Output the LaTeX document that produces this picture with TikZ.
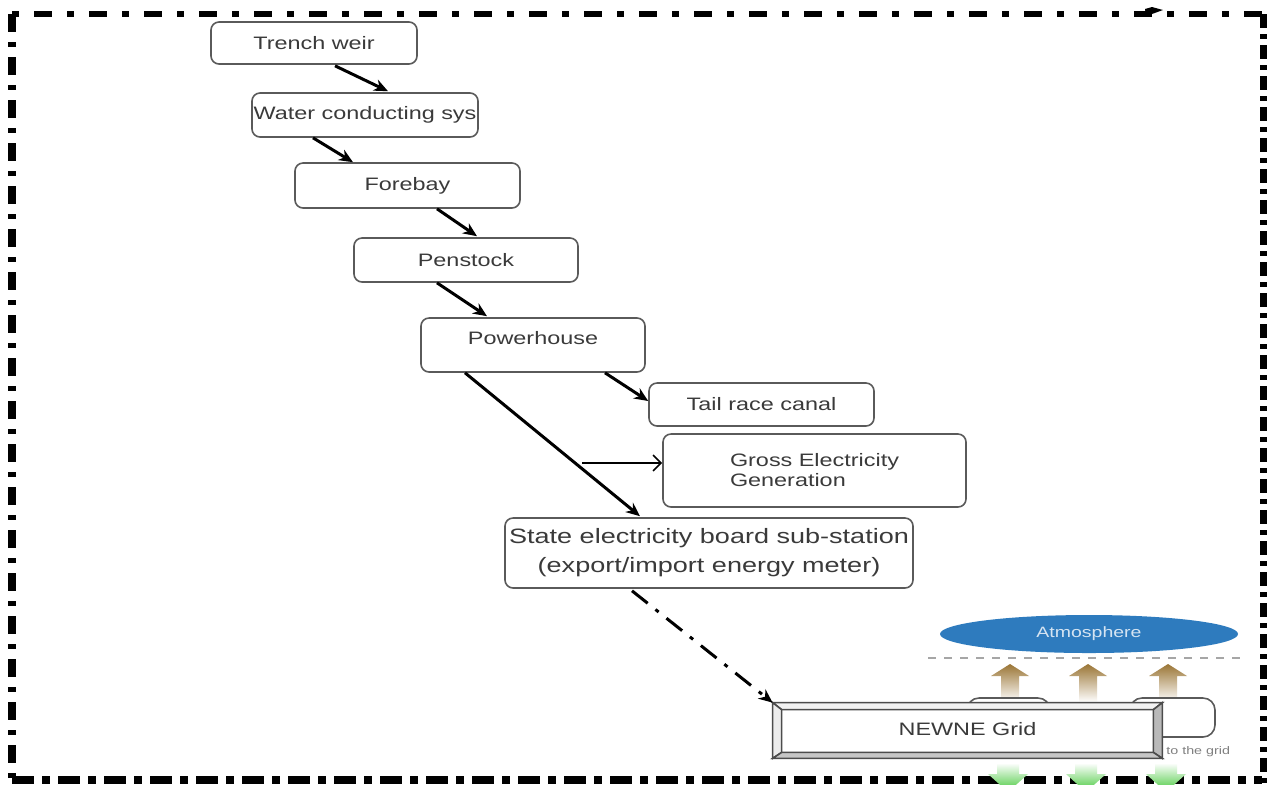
\documentclass[tikz,border=0pt]{standalone}
\usepackage{fontspec}
\setmainfont{Liberation Sans}[FakeStretch=1.3]
\usetikzlibrary{arrows.meta,calc,shapes.geometric}
\definecolor{txt}{HTML}{3A3A3A}
\definecolor{edge}{HTML}{5A5A5A}
\definecolor{atm}{HTML}{2E7BBE}
\definecolor{brownar}{HTML}{9A7535}
\definecolor{greenar}{HTML}{45C83A}
\begin{document}
\begin{tikzpicture}[x=0.5pt,y=-0.5pt,
  box/.style={draw=edge,line width=0.8pt,rounded corners=4pt,fill=white,inner sep=0pt,text=txt,font=\fontsize{9}{10.5}\selectfont,align=center},
  flow/.style={line width=1.5pt,-{Stealth[length=7pt,width=6pt]}},
  thinflow/.style={line width=0.8pt,-{Straight Barb[length=4pt,width=8pt]}},
  frame/.style={line width=4pt,line cap=butt},
  bevel/.style={draw=black!70,line width=0.8pt,line join=miter},
  backbox/.style={draw=edge,line width=0.8pt,rounded corners=6pt,fill=white,inner sep=0pt}]
\useasboundingbox (0,0) rectangle (1273,784);
\clip (0,0) rectangle (1273,784);
\fill[white] (0,0) rectangle (1273,784);

% dash-dot frame
\draw[frame,line width=2.6pt,dash pattern=on 3.5pt off 7.5pt on 9pt off 7.5pt] (12,14) -- (1262,14);
\draw[frame,dash pattern=on 9pt off 5pt on 2.5pt off 5pt] (12,14) -- (12,784);
\draw[frame,line width=3.5pt,dash pattern=on 7pt off 3pt on 2.5pt off 3pt] (1263,14) -- (1263,784);
\draw[frame,dash pattern=on 11pt off 4pt on 4pt off 4pt] (12,780) -- (1262,780);
\fill (1145,9) -- (1152,7) -- (1163,10) -- (1152,14) -- (1146,16) -- cycle;

% flow boxes
\node[box,minimum width=103pt,minimum height=21pt] (tw) at (314,43) {Trench weir};
\node[box,minimum width=113pt,minimum height=22pt] (wc) at (365,115) {Water conducting sys};
\node[box,minimum width=112.5pt,minimum height=22.5pt] (fb) at (407.5,185.5) {Forebay};
\node[box,minimum width=112pt,minimum height=22pt] (ps) at (466,260) {Penstock};
\node[box,minimum width=112pt,minimum height=27pt] (ph) at (533,345) {\raisebox{7pt}{Powerhouse}};
\node[box,minimum width=112.5pt,minimum height=21.5pt] (tr) at (761.5,404.5) {Tail race canal};
\node[box,minimum width=151.5pt,minimum height=36.5pt,align=left,font=\fontsize{9}{10}\selectfont] (ge) at (814.5,470.5) {Gross Electricity\\Generation};
\node[box,minimum width=204pt,minimum height=35pt,font=\fontsize{10.4}{14.5}\selectfont] (sb) at (709,553) {State electricity board sub-station\\(export/import energy meter)};

% connectors
\draw[flow] ($(tw.south)+(21,1)$) -- ($(wc.north)+(23,-1)$);
\draw[flow] ($(wc.south)+(-52,0)$) -- ($(fb.north)+(-54.5,0)$);
\draw[flow] ($(fb.south)+(29.5,0)$) -- ($(ps.north)+(11,-1)$);
\draw[flow] ($(ps.south)+(-29,0)$) -- ($(ph.north)+(-46,-1)$);
\draw[flow] ($(ph.south)+(72,0)$) -- ($(tr.west)+(0,-3.5)$);
\draw[flow] ($(ph.south)+(-68,0)$) -- ($(sb.north)+(-69,-1)$);
\coordinate (gs) at (582,463);
\draw[thinflow] (gs) -- (gs -| ge.west);

% atmosphere
\node[ellipse,fill=atm,minimum width=149pt,minimum height=19pt,inner sep=0pt,text=white!80!atm,font=\fontsize{7.5}{9}\selectfont] (atmo) at (1089,634) {Atmosphere};
\draw[gray!70,line width=0.8pt,dash pattern=on 4pt off 4pt] (928,658) -- (1245,658);

% brown arrows up
\foreach \cx in {1010,1088,1168}{
  \shade[top color=brownar,bottom color=white] (\cx,664) -- (\cx+19,676) -- (\cx+9,676) -- (\cx+9,702) -- (\cx-9,702) -- (\cx-9,676) -- (\cx-19,676) -- cycle;
}

% boxes behind the grid
\node[backbox,minimum width=41.5pt,minimum height=22pt] (bx1) at (1008.5,720) {};
\node[backbox,minimum width=42.5pt,minimum height=19.5pt] (bx2) at (1172.5,717.5) {};
\node[anchor=west,inner sep=0pt,text=gray,font=\fontsize{5.5}{6}\selectfont] (tg) at (1166,752) {to the grid};

% NEWNE grid bevelled box
\node[fill=white,inner sep=0pt,minimum width=194.5pt,minimum height=27.5pt,text=txt,font=\fontsize{9}{10.5}\selectfont] (ng) at (967.5,730.5) {\raisebox{2pt}{NEWNE Grid}};
\coordinate (iNW) at ($(ng.north west)+(9,7)$);
\coordinate (iNE) at ($(ng.north east)+(-9,7)$);
\coordinate (iSW) at ($(ng.south west)+(9,-6)$);
\coordinate (iSE) at ($(ng.south east)+(-9,-6)$);
\filldraw[bevel,fill=gray!10] (ng.north west) -- (ng.north east) -- (iNE) -- (iNW) -- cycle;
\filldraw[bevel,fill=gray!15] (ng.north west) -- (ng.south west) -- (iSW) -- (iNW) -- cycle;
\filldraw[bevel,fill=gray!55] (ng.north east) -- (ng.south east) -- (iSE) -- (iNE) -- cycle;
\filldraw[bevel,fill=gray!45] (ng.south west) -- (ng.south east) -- (iSE) -- (iSW) -- cycle;
\draw[bevel] (ng.north west) rectangle (ng.south east);

\draw[line width=1.5pt,dash pattern=on 10pt off 5pt on 2pt off 5pt,-{Stealth[length=7pt,width=6pt]}] ($(sb.south)+(-77,2)$) -- (ng.north west);

% green arrows down
\foreach \cx in {1008,1086,1166}{
  \shade[top color=white,bottom color=greenar] (\cx-11,763) -- (\cx+11,763) -- (\cx+11,774) -- (\cx+20,774) -- (\cx,792) -- (\cx-20,774) -- (\cx-11,774) -- cycle;
}
\end{tikzpicture}
\end{document}
